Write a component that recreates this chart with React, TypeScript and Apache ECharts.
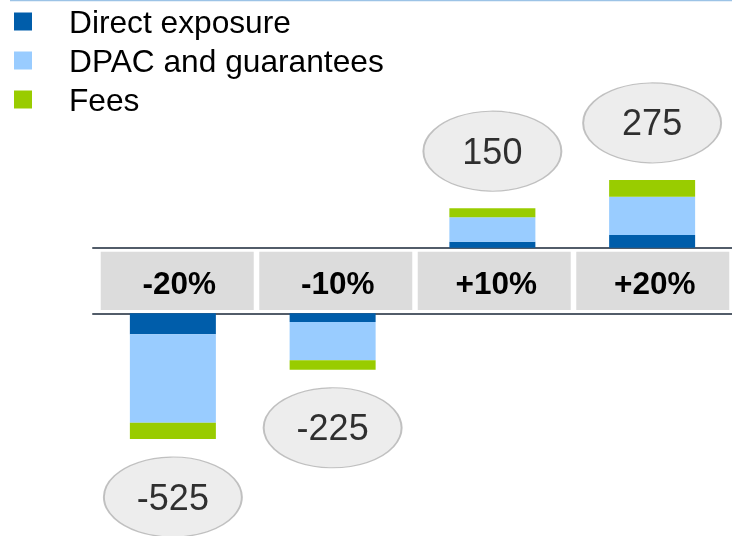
import React, { useEffect, useRef } from "react";
import * as echarts from "echarts";

const categories = ["-20%", "-10%", "+10%", "+20%"];
const directExposure = [-84, -35, 24, 51];
const dpacGuarantees = [-354, -153, 98, 153];
const fees = [-65, -38, 36, 67];
const totals = [-525, -225, 150, 275];
const seriesNames = ["Direct exposure", "DPAC and guarantees", "Fees"];

const FONT = 'Arial, "Liberation Sans", sans-serif';
const COLORS = ["#005DAA", "#99CCFF", "#99CC00"];
const AXIS_COLOR = "#525c69";

export default function App() {
  const ref = useRef<HTMLDivElement>(null);

  useEffect(() => {
    if (!ref.current) return;
    const chart = echarts.init(ref.current, undefined, { renderer: "svg" });
    const parts = [directExposure, dpacGuarantees, fees];
    const sums = categories.map((_, i) => parts.reduce((s, arr) => s + arr[i], 0));

    const barSeries = (grid: number, positive: boolean) =>
      parts.map((arr, k) => ({
        type: "bar" as const,
        name: seriesNames[k],
        xAxisIndex: grid,
        yAxisIndex: grid,
        stack: positive ? "up" : "down",
        barWidth: 86,
        silent: true,
        itemStyle: { color: COLORS[k] },
        data: arr.map((v) => (positive ? (v > 0 ? v : "-") : v < 0 ? v : "-")),
      }));

    const ellipseSeries = (grid: number, positive: boolean) => ({
      type: "scatter" as const,
      xAxisIndex: grid,
      yAxisIndex: grid,
      silent: true,
      clip: false,
      z: 5,
      symbol: "circle",
      symbolSize: [138, 80],
      symbolOffset: [0, positive ? -57 : 58],
      itemStyle: { color: "#e8e8e8", borderColor: "#b3b3b3", borderWidth: 1.5 },
      label: {
        show: true,
        position: "inside",
        fontSize: 36,
        fontFamily: FONT,
        color: "#000",
        formatter: (p: any) => String(p.value[2]),
      },
      data: totals
        .map((t, i) => [categories[i], sums[i], t])
        .filter((d) => (positive ? (d[2] as number) > 0 : (d[2] as number) < 0)),
    });

    chart.setOption({
      animation: false,
      legend: {
        orient: "vertical",
        left: 14,
        top: 4,
        padding: 0,
        itemWidth: 18,
        itemHeight: 18,
        itemGap: 4,
        icon: "rect",
        selectedMode: false,
        data: seriesNames,
        textStyle: {
          fontSize: 31.7,
          lineHeight: 31,
          color: "#000",
          fontFamily: FONT,
          padding: [4, 0, 0, 32],
        },
      },
      graphic: [
        {
          type: "line",
          shape: { x1: 10, y1: 0.5, x2: 732, y2: 0.5 },
          style: { stroke: "#9cc3e6", lineWidth: 1.5 },
          silent: true,
        },
      ],
      grid: [
        { left: 93, width: 644, top: 147.7, height: 100 },
        { left: 93, width: 644, top: 313.3, height: 130 },
        { left: 98, width: 643, top: 251.7, height: 58.3 },
      ],
      xAxis: [
        {
          gridIndex: 0,
          type: "category",
          data: categories,
          position: "bottom",
          axisLine: { show: true, lineStyle: { color: AXIS_COLOR, width: 2 } },
          axisTick: { show: false },
          axisLabel: { show: false },
        },
        {
          gridIndex: 1,
          type: "category",
          data: categories,
          position: "top",
          axisLine: { show: true, lineStyle: { color: AXIS_COLOR, width: 2 } },
          axisTick: { show: false },
          axisLabel: { show: false },
        },
        {
          gridIndex: 2,
          type: "category",
          data: categories,
          show: false,
        },
      ],
      yAxis: [
        { gridIndex: 0, type: "value", min: 0, max: 400, show: false },
        { gridIndex: 1, type: "value", min: -520, max: 0, show: false },
        { gridIndex: 2, type: "value", min: 0, max: 1, show: false },
      ],
      series: [
        ...barSeries(0, true),
        ...barSeries(1, false),
        ellipseSeries(0, true),
        ellipseSeries(1, false),
        {
          type: "bar",
          xAxisIndex: 2,
          yAxisIndex: 2,
          silent: true,
          barWidth: 153,
          itemStyle: { color: "#dcdcdc" },
          label: {
            show: true,
            position: "inside",
            formatter: "{b}",
            fontSize: 31.5,
            fontWeight: "bold",
            fontFamily: FONT,
            color: "#000",
            offset: [2, 2],
          },
          data: categories.map(() => 1),
        },
      ],
    });

    return () => chart.dispose();
  }, []);

  return (
    <div
      ref={ref}
      style={{ position: "fixed", left: 0, top: 0, width: 732, height: 536 }}
    />
  );
}
